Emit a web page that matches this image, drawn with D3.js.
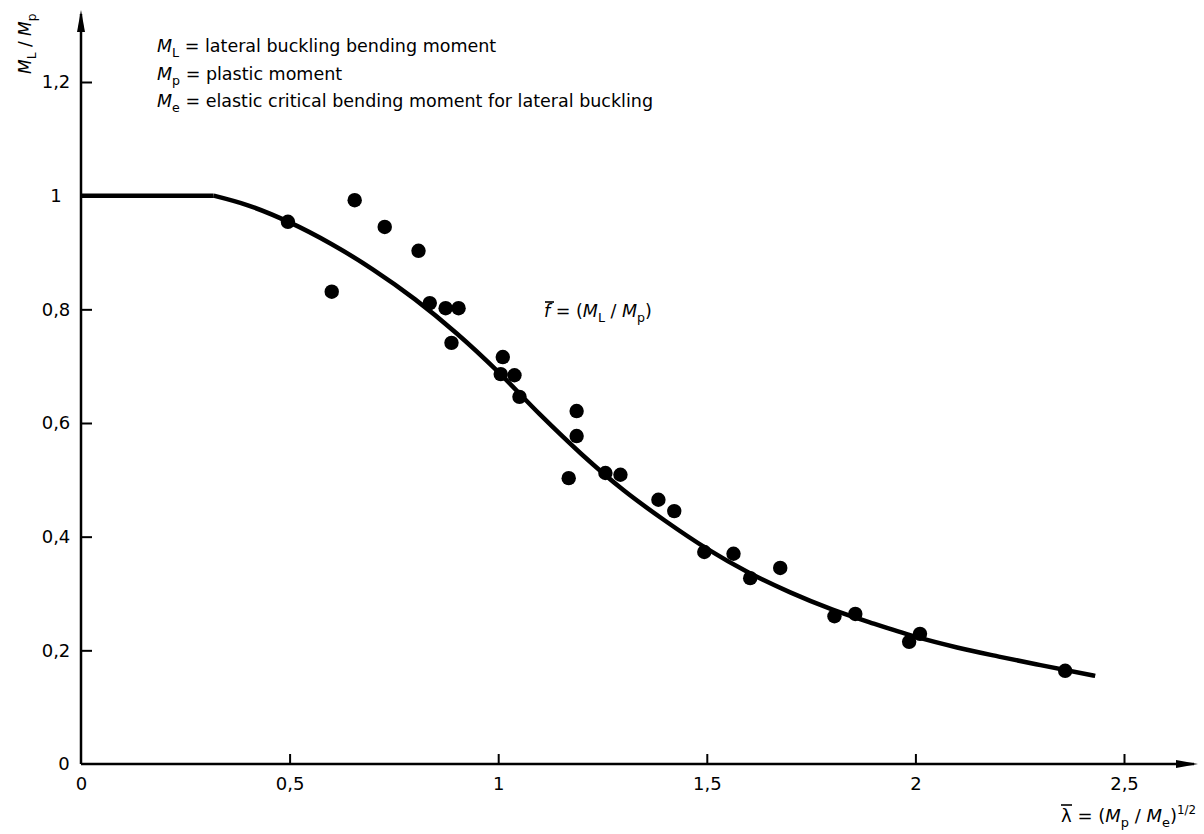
<!DOCTYPE html>
<html>
<head>
<meta charset="utf-8">
<script src="https://cdn.jsdelivr.net/npm/d3@7"></script>
<style>
  html, body { margin: 0; padding: 0; background: #fff; }
  svg { display: block; }
  text { font-family: "DejaVu Sans", sans-serif; fill: #000; }
</style>
</head>
<body>
<svg id="chart" width="1204" height="834"></svg>
<script>
// ---- data ----
const xTicks = [0, 0.5, 1, 1.5, 2, 2.5];
const yTicks = [0, 0.2, 0.4, 0.6, 0.8, 1, 1.2];

// test results (lambda-bar, M_L/M_p)
const obsLambda = [0.496, 0.601, 0.656, 0.728, 0.809, 0.836, 0.874, 0.905, 0.888,
  1.011, 1.006, 1.039, 1.051, 1.188, 1.188, 1.169, 1.257, 1.293, 1.384, 1.422,
  1.494, 1.564, 1.604, 1.676, 1.806, 1.856, 1.985, 2.011, 2.359];
const obsM = [0.954, 0.831, 0.992, 0.945, 0.903, 0.811, 0.802, 0.802, 0.741,
  0.716, 0.686, 0.684, 0.646, 0.621, 0.577, 0.503, 0.512, 0.509, 0.465, 0.445,
  0.373, 0.370, 0.327, 0.345, 0.260, 0.264, 0.215, 0.229, 0.164];

// design curve f-bar (plateau up to 0.318, then the reduction curve)
const curveLambda = [0, 0.318, 0.4, 0.5, 0.6, 0.7, 0.8, 0.9, 1.0, 1.1, 1.2, 1.3, 1.4,
  1.5, 1.6, 1.7, 1.8, 1.9, 2.0, 2.1, 2.2, 2.3, 2.431];
const curveM = [1.0, 1.0, 0.983, 0.953, 0.915, 0.870, 0.818, 0.758, 0.690, 0.615, 0.545,
  0.482, 0.428, 0.379, 0.337, 0.302, 0.272, 0.247, 0.224, 0.205, 0.189, 0.174, 0.155];

// ---- drawing ----
const svg = d3.select("#chart");
const x = d3.scaleLinear().domain([0, 2.5]).range([81, 1124]);
const y = d3.scaleLinear().domain([0, 1.2]).range([764, 82]);
const fmt = d => String(d3.format("~g")(d)).replace(".", ",");

// axes (ticks inside)
const gx = svg.append("g").attr("transform", `translate(0,${y(0)})`)
  .call(d3.axisBottom(x).tickValues(xTicks).tickFormat(fmt).tickSizeInner(-10).tickSizeOuter(0).tickPadding(13));
const gy = svg.append("g").attr("transform", `translate(${x(0)},0)`)
  .call(d3.axisLeft(y).tickValues(yTicks).tickFormat(fmt).tickSizeInner(-11).tickSizeOuter(0).tickPadding(25));
[gx, gy].forEach(g => {
  g.select(".domain").remove();
  g.selectAll(".tick line").attr("stroke", "#000").attr("stroke-width", 2);
  g.selectAll(".tick text").attr("font-size", 18).attr("font-family", "DejaVu Sans").attr("fill", "#000");
});
gy.selectAll(".tick text").attr("text-anchor", "middle").attr("dx", d => d === 0 ? 8 : 0);
gy.selectAll(".tick").filter(d => d === 0).select("line").remove();
gx.selectAll(".tick").filter(d => d === 0).select("line").remove();

// axis lines with arrows
const x0 = x(0), y0 = y(0);
svg.append("path").attr("d", `M${x0},${y0}V14`).attr("stroke", "#000").attr("stroke-width", 2.5).attr("fill", "none");
svg.append("path").attr("d", `M${x0},${y0}H1194`).attr("stroke", "#000").attr("stroke-width", 2.5).attr("fill", "none");
svg.append("path").attr("d", `M${x0},10L${x0 - 4},32L${x0 + 4},32Z`).attr("fill", "#000");
svg.append("path").attr("d", `M1198,${y0}L1176,${y0 - 4}L1176,${y0 + 4}Z`).attr("fill", "#000");

// design curve: straight plateau, then smooth decline (corner at plateau end)
const idx = d3.range(curveLambda.length);
const plateau = idx.filter(i => i <= 1);
const decline = idx.filter(i => i >= 1);
const linePlat = d3.line().x(i => x(curveLambda[i])).y(i => y(curveM[i]));
const lineDecl = d3.line().x(i => x(curveLambda[i])).y(i => y(curveM[i])).curve(d3.curveMonotoneX);
const curveG = svg.append("g").attr("fill", "none").attr("stroke", "#000")
  .attr("stroke-width", 4.5).attr("stroke-linejoin", "round").attr("stroke-linecap", "butt");
curveG.append("path").datum(plateau).attr("d", linePlat);
curveG.append("path").datum(decline).attr("d", lineDecl);

// test points
svg.append("g").selectAll("circle").data(obsLambda).join("circle")
  .attr("cx", d => x(d)).attr("cy", (d, i) => y(obsM[i])).attr("r", 7.2).attr("fill", "#000");

// helper for text with subscripts
function richText(g, parts, size) {
  const t = g.append("text").attr("font-size", size);
  parts.forEach(p => {
    const s = t.append("tspan").text(p.t);
    if (p.i) s.attr("font-style", "italic");
    if (p.sub) s.attr("font-size", size * 0.72).attr("dy", size * 0.28);
    if (p.up) s.attr("dy", -size * 0.28);
    if (p.sup) s.attr("font-size", size * 0.66).attr("dy", -size * 0.42);
  });
  return t;
}

// legend
const leg = [
  [{t: "M", i: 1}, {t: "L", sub: 1}, {t: " = lateral buckling bending moment", up: 1}],
  [{t: "M", i: 1}, {t: "p", sub: 1}, {t: " = plastic moment", up: 1}],
  [{t: "M", i: 1}, {t: "e", sub: 1}, {t: " = elastic critical bending moment for lateral buckling", up: 1}]
];
const legY = [52, 80, 107];
leg.forEach((parts, k) => {
  const g = svg.append("g").attr("transform", `translate(157,${legY[k]})`);
  richText(g, parts, 17.5);
});

// curve label f-bar = (M_L / M_p)
{
  const g = svg.append("g").attr("transform", "translate(544,317)");
  richText(g, [{t: "f", i: 1}, {t: " = ("}, {t: "M", i: 1}, {t: "L", sub: 1}, {t: " / ", up: 1}, {t: "M", i: 1}, {t: "p", sub: 1}, {t: ")", up: 1}], 17.5);
  g.append("line").attr("x1", 1).attr("x2", 10).attr("y1", -15).attr("y2", -15).attr("stroke", "#000").attr("stroke-width", 1.6);
}

// x-axis title lambda-bar = (M_p / M_e)^1/2
{
  const g = svg.append("g").attr("transform", "translate(1061,822)");
  richText(g, [{t: "λ"}, {t: " = ("}, {t: "M", i: 1}, {t: "p", sub: 1}, {t: " / ", up: 1}, {t: "M", i: 1}, {t: "e", sub: 1}, {t: ")", up: 1}, {t: "1/2", sup: 1}], 18);
  g.append("line").attr("x1", 0).attr("x2", 11).attr("y1", -17).attr("y2", -17).attr("stroke", "#000").attr("stroke-width", 1.6);
}

// y-axis title M_L / M_p (rotated)
{
  const g = svg.append("g").attr("transform", "translate(31,74) rotate(-90)");
  richText(g, [{t: "M", i: 1}, {t: "L", sub: 1}, {t: " / ", up: 1}, {t: "M", i: 1}, {t: "p", sub: 1}], 17);
}
</script>
</body>
</html>
